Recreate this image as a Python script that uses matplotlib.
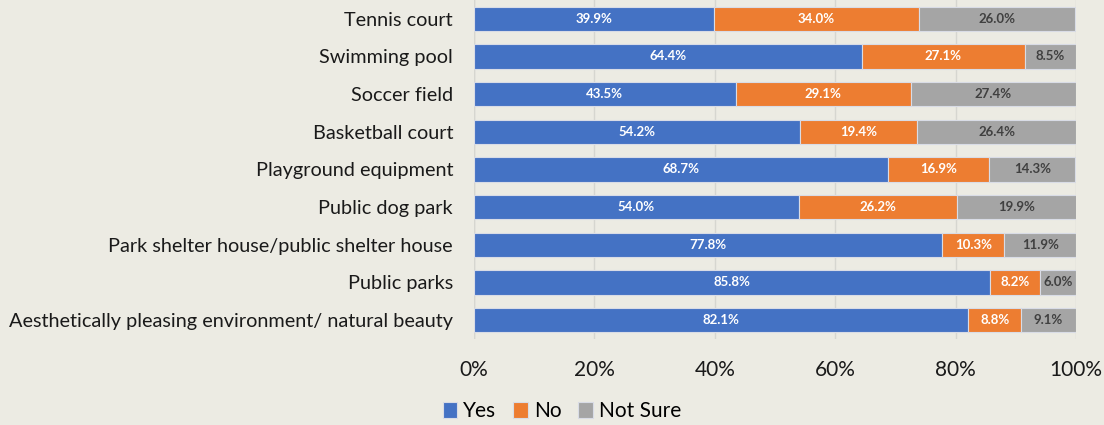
import numpy as np
import matplotlib
matplotlib.use("Agg")
import matplotlib.pyplot as plt

# Survey categories (top to bottom as shown)
categories = ["Tennis court", "Swimming pool", "Soccer field", "Basketball court",
              "Playground equipment", "Public dog park",
              "Park shelter house/public shelter house", "Public parks",
              "Aesthetically pleasing environment/ natural beauty"]
yes_vals = [39.9, 64.4, 43.5, 54.2, 68.7, 54.0, 77.8, 85.8, 82.1]
no_vals = [34.0, 27.1, 29.1, 19.4, 16.9, 26.2, 10.3, 8.2, 8.8]
notsure_vals = [26.0, 8.5, 27.4, 26.4, 14.3, 19.9, 11.9, 6.0, 9.1]

bg = "#ECEBE3"
plt.rcParams['font.family'] = ['Lato', 'DejaVu Sans']

fig = plt.figure(figsize=(11.04, 4.25), dpi=100, facecolor=bg)
ax = fig.add_axes([0.4293, 0.2024, 0.5453, 0.7976], facecolor=bg)

y = np.arange(len(categories))
yes = np.array(yes_vals)
no = np.array(no_vals)
ns = np.array(notsure_vals)
h = 0.64

b1 = ax.barh(y, yes, height=h, color="#4472C4", edgecolor="#D9DCE6", linewidth=0.8, label="Yes", zorder=3)
b2 = ax.barh(y, no, left=yes, height=h, color="#ED7D31", edgecolor="#D9DCE6", linewidth=0.8, label="No", zorder=3)
b3 = ax.barh(y, ns, left=yes + no, height=h, color="#A5A5A5", edgecolor="#D9DCE6", linewidth=0.8, label="Not Sure", zorder=3)

for bars, vals, col in [(b1, yes, "white"), (b2, no, "white"), (b3, ns, "#404040")]:
    ax.bar_label(bars, labels=[f"{v:.1f}%" for v in vals], label_type="center",
                 color=col, fontsize=9.5, fontweight="bold", zorder=4)

ax.set_xlim(0, 100)
ax.set_ylim(len(categories) - 0.5, -0.5)
ax.set_yticks(y)
ax.set_yticklabels(categories, fontsize=14.3, color="#1a1a1a")
ax.set_xticks(np.arange(0, 101, 20))
ax.set_xticklabels([f"{v}%" for v in range(0, 101, 20)], fontsize=15, color="#1a1a1a")
ax.tick_params(axis="y", length=0, pad=15)
ax.tick_params(axis="x", length=0, pad=15)
ax.grid(axis="x", color="#D6D6D0", linewidth=1, zorder=0)
for s in ax.spines.values():
    s.set_visible(False)
ax.axvline(0, color="#D6D6D0", linewidth=1, zorder=1)

fig.legend(handles=[b1, b2, b3], loc="center", bbox_to_anchor=(0.509, 0.033),
           ncol=3, frameon=False, fontsize=15, handlelength=0.7, handleheight=0.8,
           handletextpad=0.3, columnspacing=0.8)

fig.savefig("out.png", dpi=100, facecolor=bg)
